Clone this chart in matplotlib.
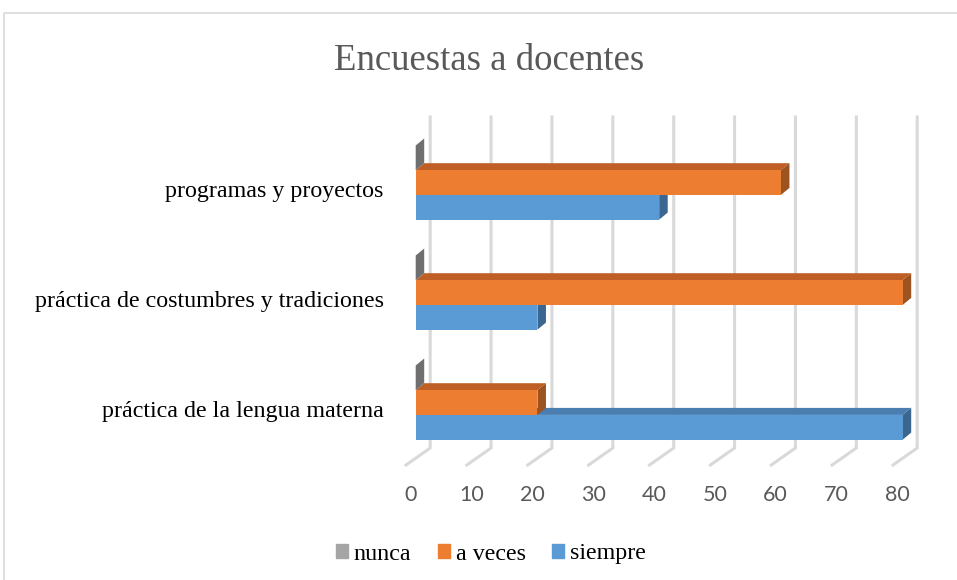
import matplotlib
matplotlib.use("Agg")
import matplotlib.pyplot as plt
from matplotlib.patches import Polygon, Patch
from matplotlib.transforms import IdentityTransform, offset_copy
from matplotlib.lines import Line2D

# data
categories = ["práctica de la lengua materna",
              "práctica de costumbres y tradiciones",
              "programas y proyectos"]
series_names = ["nunca", "a veces", "siempre"]
nunca = [0, 0, 0]
a_veces = [20, 80, 60]
siempre = [80, 20, 40]
ticks = [0, 10, 20, 30, 40, 50, 60, 70, 80]

title = "Encuestas a docentes"

# colours (front, top, side)
colors = {
    "nunca": ("#A5A5A5", "#8a8a8a", "#6f6f6f"),
    "a veces": ("#ED7D31", "#BF5F25", "#9C5320"),
    "siempre": ("#5B9BD5", "#4A7DB0", "#3B6690"),
}

W, H = 957, 580
fig = plt.figure(figsize=(W / 100, H / 100), dpi=100)

# axes = front plane of the bars, in pixel positions
ax_left, ax_right = 415.7, 902.7
ax_top, ax_bottom = 125, 458
ax = fig.add_axes([ax_left / W, 1 - ax_bottom / H,
                   (ax_right - ax_left) / W, (ax_bottom - ax_top) / H])
ax.set_xlim(0, 80)
ax.set_ylim(-0.504, 2.523)
ax.axis("off")

bar_h = 0.2245
depth = (8.5, 7)          # bar depth in pixels
back = (14.5, 10)         # back wall offset from bar plane
front = (-9.7, -7)        # floor front edge offset from bar plane
grid_c = "#D9D9D9"
ident = IdentityTransform()


def disp(x, y):
    return ax.transData.transform((x, y))


# gridlines + floor lines
y0 = ax.get_ylim()[0]
y1 = ax.get_ylim()[1]
for t in ticks:
    bx, by = disp(t, y0)
    tx, ty = disp(t, y1)
    xs = [bx + front[0], bx + back[0], tx + back[0]]
    ys = [by + front[1], by + back[1], ty + back[1] - 2]
    ax.add_line(Line2D(xs, ys, transform=ident, color=grid_c, lw=2.2,
                       zorder=1, clip_on=False, solid_joinstyle="miter"))
    ax.text(bx + front[0] + 4.5, by + front[1] - 30, str(t), transform=ident,
            ha="center", va="center", fontsize=15.5, family="Lato",
            color="#595959")


def bar3d(v, yc, key, z):
    fc, tc, sc = colors[key]
    ax.barh(yc, v, height=bar_h, left=0, color=fc, zorder=z + 0.2,
            clip_on=False)
    x0, yb = disp(0, yc - bar_h / 2)
    x1, yt = disp(v, yc + bar_h / 2)
    dx, dy = depth
    top = [(x0, yt), (x1, yt), (x1 + dx, yt + dy), (x0 + dx, yt + dy)]
    side = [(x1, yb), (x1, yt), (x1 + dx, yt + dy), (x1 + dx, yb + dy)]
    ax.add_patch(Polygon(top, closed=True, transform=ident, fc=tc, ec="none",
                         zorder=z, clip_on=False))
    ax.add_patch(Polygon(side, closed=True, transform=ident, fc=sc, ec="none",
                         zorder=z + 0.1, clip_on=False))


for i in range(len(categories)):
    bar3d(siempre[i], i - bar_h, "siempre", 2 + i * 3)
    bar3d(a_veces[i], i, "a veces", 3 + i * 3)
    bar3d(nunca[i], i + bar_h, "nunca", 4 + i * 3)

# category labels
lab_tr = offset_copy(ax.transData, fig=fig, x=-32, y=-14, units="dots")
for i, c in enumerate(categories):
    ax.text(0, i, c, transform=lab_tr, ha="right", va="baseline",
            fontsize=17.3, family="Liberation Serif", color="black")

# title
fig.text(489 / W, 1 - 61 / H, title, ha="center", va="center",
         fontsize=26.5, family="Liberation Serif", color="#595959")

# legend
handles = [Patch(color=colors[k][0]) for k in series_names]
fig.legend(handles, series_names, loc="center",
           bbox_to_anchor=(491 / W, 1 - 554 / H), ncol=3, frameon=False,
           prop={"family": "Liberation Serif", "size": 17.3},
           handlelength=0.5, handleheight=0.5, handletextpad=0.25,
           columnspacing=1.1)

# chart border (left and top visible)
fig.add_artist(Line2D([4 / W, 4 / W, 1], [0, 1 - 13 / H, 1 - 13 / H],
                      transform=fig.transFigure, color=grid_c, lw=1.2))

fig.savefig("out.png", dpi=100)
